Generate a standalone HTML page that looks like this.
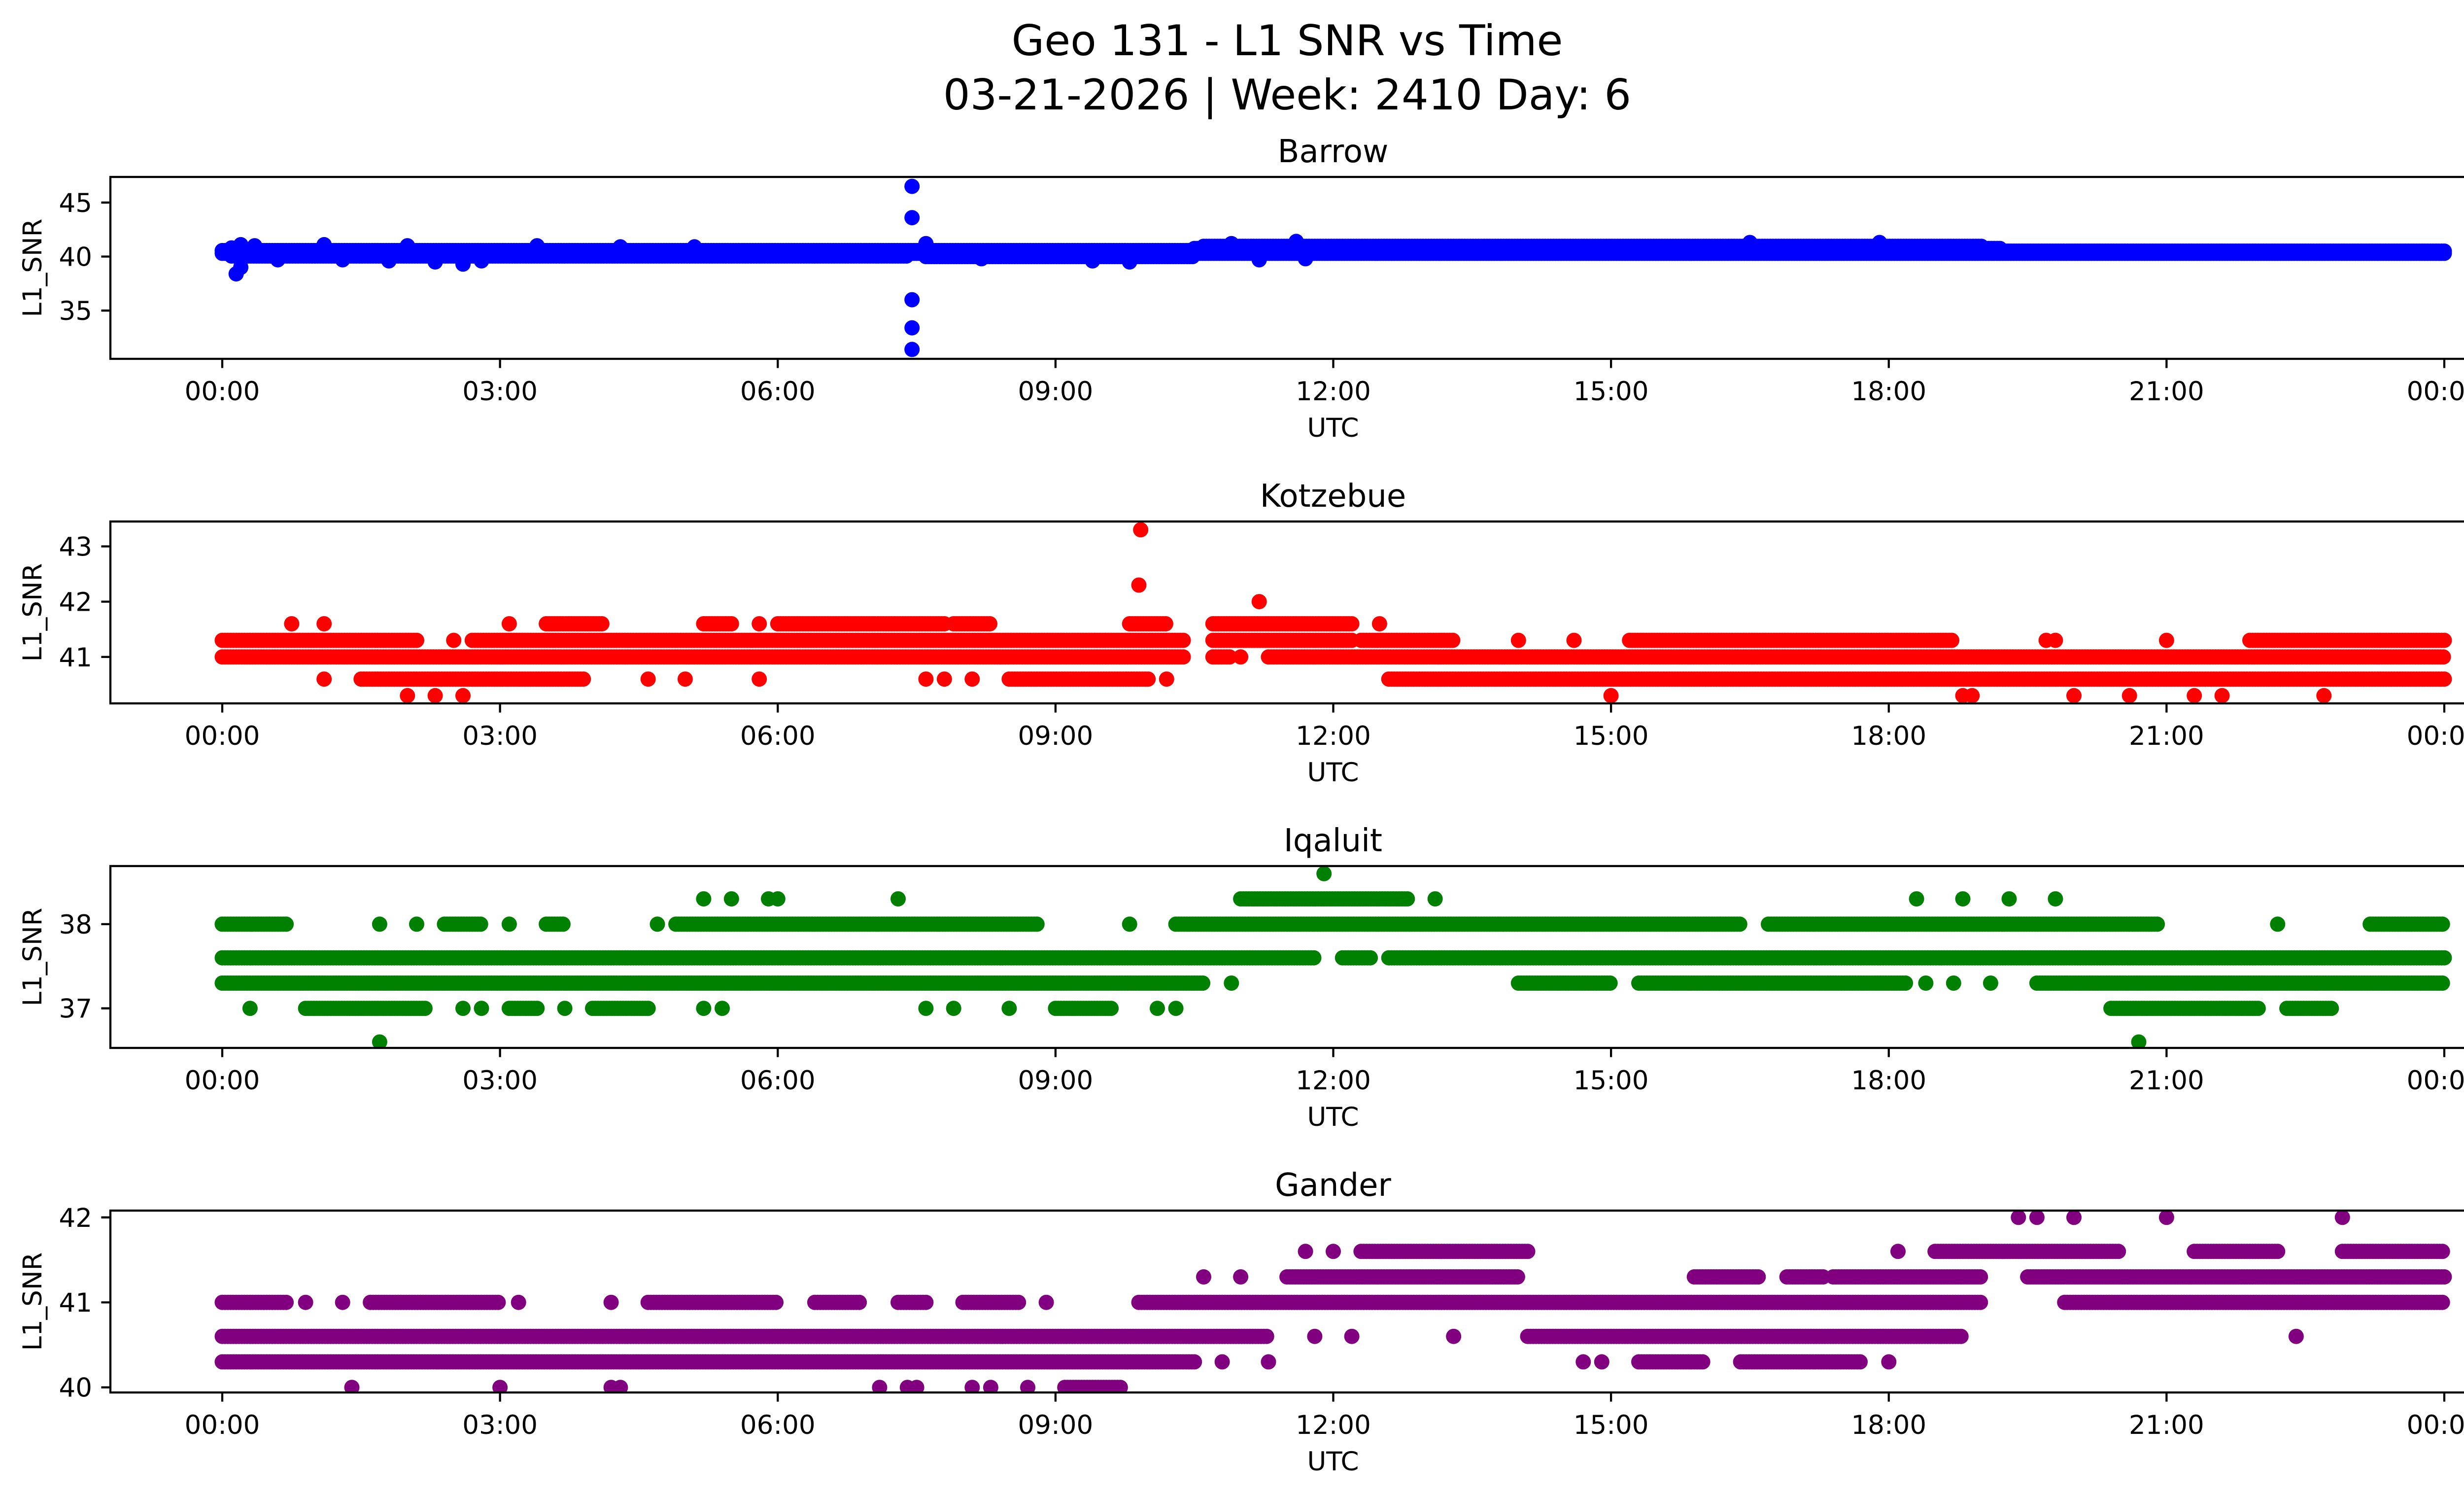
<!DOCTYPE html>
<html><head><meta charset="utf-8"><style>
html,body{margin:0;padding:0;background:#fff;}
svg{display:block;font-family:"DejaVu Sans","Liberation Sans",sans-serif;}
</style></head><body>
<svg id="fig" width="5225" height="3033" viewBox="0 0 5225 3033" xmlns="http://www.w3.org/2000/svg">
<rect width="5225" height="3033" fill="#fff"/>
<text x="2612" y="112" font-size="86" text-anchor="middle">Geo 131 - L1 SNR vs Time</text>
<text x="2612" y="222" font-size="86" text-anchor="middle">03-21-2026 | Week: 2410 Day: 6</text>
<g id="panels"></g>
</svg>
<script>
// ---- data (hours UTC, L1 SNR) ----
const xTickLabels = ["00:00","03:00","06:00","09:00","12:00","15:00","18:00","21:00","00:00"];
const xTickHours = [0,3,6,9,12,15,18,21,24];
const panelNames = ["Barrow","Kotzebue","Iqaluit","Gander"];
const panelColors = ["#0000ff","#ff0000","#008000","#800080"];
const barrowTicks = [35,40,45];
const kotzTicks = [41,42,43];
const iqalTicks = [37,38];
const ganderTicks = [40,41,42];
const barrowRange = [30.53,47.37];
const kotzRange = [40.16,43.45];
const iqalRange = [36.53,38.69];
const ganderRange = [39.94,42.08];

const barrowRuns = [[0,24,40.3],[0,10.5,40.55],[0.1,7.4,40.05],[7.6,10.5,40.0],[10.5,19.2,40.75],[10.6,19.0,40.95],[19.2,24,40.5]];
const barrowDots = [[0.1,40.8],[0.15,38.4],[0.2,39.0],[0.2,41.1],[0.35,41.0],[0.6,39.7],[1.1,41.1],[1.3,39.7],[1.8,39.6],[2.0,41.0],[2.3,39.5],[2.6,39.3],[2.8,39.6],[3.4,41.0],[4.3,40.9],[5.1,40.9],[7.45,46.5],[7.45,43.6],[7.45,36.0],[7.45,33.4],[7.45,31.4],[7.6,41.2],[8.2,39.8],[9.4,39.6],[9.8,39.5],[10.9,41.2],[11.2,39.7],[11.6,41.4],[11.7,39.8],[16.5,41.3],[17.9,41.3]];

const kotzRuns = [[0,2.1,41.3],[2.7,10.4,41.3],[10.7,12.2,41.3],[12.3,13.3,41.3],[15.2,18.7,41.3],[21.9,24,41.3],[0,10.4,41.0],[10.7,10.9,41.0],[11.3,24,41.0],[1.5,3.9,40.6],[8.5,10.0,40.6],[12.6,24,40.6],[3.5,4.1,41.6],[5.2,5.5,41.6],[6.0,7.8,41.6],[7.9,8.3,41.6],[9.8,10.2,41.6],[10.7,12.2,41.6]];
const kotzDots = [[0.75,41.6],[1.1,41.6],[3.1,41.6],[5.8,41.6],[12.5,41.6],[1.1,40.6],[4.6,40.6],[5.0,40.6],[5.8,40.6],[7.6,40.6],[7.8,40.6],[8.1,40.6],[10.2,40.6],[2.5,41.3],[14.0,41.3],[14.6,41.3],[19.7,41.3],[19.8,41.3],[21.0,41.3],[11.0,41.0],[2.0,40.3],[2.3,40.3],[2.6,40.3],[15.0,40.3],[18.8,40.3],[18.9,40.3],[20.0,40.3],[20.6,40.3],[21.3,40.3],[21.6,40.3],[22.7,40.3],[9.9,42.3],[9.92,43.3],[11.2,42.0]];

const iqalRuns = [[0,11.8,37.6],[12.1,12.4,37.6],[12.6,24,37.6],[0,10.6,37.3],[14.0,15.0,37.3],[15.3,18.2,37.3],[19.6,24,37.3],[0,0.7,38.0],[2.4,2.8,38.0],[3.5,3.7,38.0],[4.9,8.8,38.0],[10.3,16.4,38.0],[16.7,20.9,38.0],[23.2,24,38.0],[11.0,12.8,38.3],[0.9,2.2,37.0],[3.1,3.4,37.0],[4.0,4.6,37.0],[9.0,9.6,37.0],[20.4,22.0,37.0],[22.3,22.8,37.0]];
const iqalDots = [[1.7,38.0],[2.1,38.0],[3.1,38.0],[4.7,38.0],[9.8,38.0],[22.2,38.0],[5.2,38.3],[5.5,38.3],[5.9,38.3],[6.0,38.3],[7.3,38.3],[13.1,38.3],[18.3,38.3],[18.8,38.3],[19.3,38.3],[19.8,38.3],[10.9,37.3],[18.4,37.3],[18.7,37.3],[19.1,37.3],[0.3,37.0],[2.6,37.0],[2.8,37.0],[3.7,37.0],[5.2,37.0],[5.4,37.0],[7.6,37.0],[7.9,37.0],[8.5,37.0],[10.1,37.0],[10.3,37.0],[1.7,36.6],[20.7,36.6],[11.9,38.6]];

const ganderRuns = [[0,11.3,40.6],[14.1,18.8,40.6],[0,10.5,40.3],[15.3,16.0,40.3],[16.4,17.7,40.3],[0,0.7,41.0],[1.6,3.0,41.0],[4.6,6.0,41.0],[6.4,6.9,41.0],[7.3,7.6,41.0],[8.0,8.6,41.0],[9.9,19.0,41.0],[19.9,24,41.0],[11.5,14.0,41.3],[15.9,16.6,41.3],[16.9,17.3,41.3],[17.4,19.0,41.3],[19.5,24,41.3],[12.3,14.1,41.6],[18.5,20.5,41.6],[21.3,22.2,41.6],[22.9,24,41.6],[9.1,9.7,40.0]];
const ganderDots = [[11.8,40.6],[12.2,40.6],[13.3,40.6],[10.8,40.3],[11.3,40.3],[14.7,40.3],[14.9,40.3],[18.0,40.3],[0.9,41.0],[1.3,41.0],[3.2,41.0],[4.2,41.0],[8.9,41.0],[10.6,41.3],[11.0,41.3],[11.7,41.6],[12.0,41.6],[18.1,41.6],[19.4,42.0],[19.6,42.0],[20.0,42.0],[21.0,42.0],[22.9,42.0],[1.4,40.0],[3.0,40.0],[4.2,40.0],[4.3,40.0],[7.1,40.0],[7.4,40.0],[7.5,40.0],[8.1,40.0],[8.3,40.0],[8.7,40.0],[22.4,40.6]];

const allRuns = [barrowRuns,kotzRuns,iqalRuns,ganderRuns];
const allDots = [barrowDots,kotzDots,iqalDots,ganderDots];
const allTicks = [barrowTicks,kotzTicks,iqalTicks,ganderTicks];
const allRanges = [barrowRange,kotzRange,iqalRange,ganderRange];

// ---- layout ----
const NS="http://www.w3.org/2000/svg";
const L=224,R=5186,X0=451,X24=4960,TOP0=359,PITCH=699,H=369;
const xScale = h => X0 + (X24-X0)*h/24;
function mk(tag,attrs,parent){const e=document.createElementNS(NS,tag);for(const k in attrs)e.setAttribute(k,attrs[k]);parent.appendChild(e);return e;}
const root=document.getElementById('panels');

for(let p=0;p<4;p++){
  const top=TOP0+p*PITCH, bot=top+H;
  const rng=allRanges[p];
  const yScale = v => bot - (v-rng[0])/(rng[1]-rng[0])*H;
  const g=mk('g',{},root);
  
  
  const t=mk('text',{x:(L+R)/2,y:top-30,'font-size':64,'text-anchor':'middle'},g);
  
  
  t.textContent=panelNames[p];
  const pts=mk('g',{fill:panelColors[p]},g);
  
  
  const cp='clip'+p;
  const clip=mk('clipPath',{id:cp},g);
  mk('rect',{x:L,y:top,width:R-L,height:H},clip);
  pts.setAttribute('clip-path','url(#'+cp+')');
  allRuns[p].forEach(r=>{
    for(let h=r[0];h<=r[1]+1e-9;h+=0.03){
      const c=mk('circle',{cx:xScale(h).toFixed(1),cy:yScale(r[2]).toFixed(1),r:15.5},pts);
      
      
    }
  });
  allDots[p].forEach(d=>{
    const c=mk('circle',{cx:xScale(d[0]).toFixed(1),cy:yScale(d[1]).toFixed(1),r:15.5},pts);
    
    
  });
  const fr=mk('rect',{x:L,y:top,width:R-L,height:H,fill:'none',stroke:'#000','stroke-width':4.3},g);
  
  
  xTickHours.forEach((h,i)=>{
    const x=xScale(h);
    mk('line',{x1:x,x2:x,y1:bot,y2:bot+18.6,stroke:'#000','stroke-width':4.3},g);
    const tl=mk('text',{x:x,y:bot+84,'font-size':53,'text-anchor':'middle'},g);
    
    
    tl.textContent=xTickLabels[i];
  });
  allTicks[p].forEach(v=>{
    const y=yScale(v);
    mk('line',{x1:L-18.6,x2:L,y1:y,y2:y,stroke:'#000','stroke-width':4.3},g);
    const tl=mk('text',{x:L-37,y:y+19,'font-size':53,'text-anchor':'end'},g);
    
    
    tl.textContent=String(v);
  });
  const xl=mk('text',{x:(L+R)/2,y:bot+158,'font-size':53,'text-anchor':'middle'},g);
  
  
  xl.textContent='UTC';
  const yc=(top+bot)/2;
  const yl=mk('text',{x:0,y:0,'font-size':53,'text-anchor':'middle',transform:'translate(84,'+yc+') rotate(-90)'},g);
  
  
  yl.textContent='L1_SNR';
}
</script>
</body></html>
